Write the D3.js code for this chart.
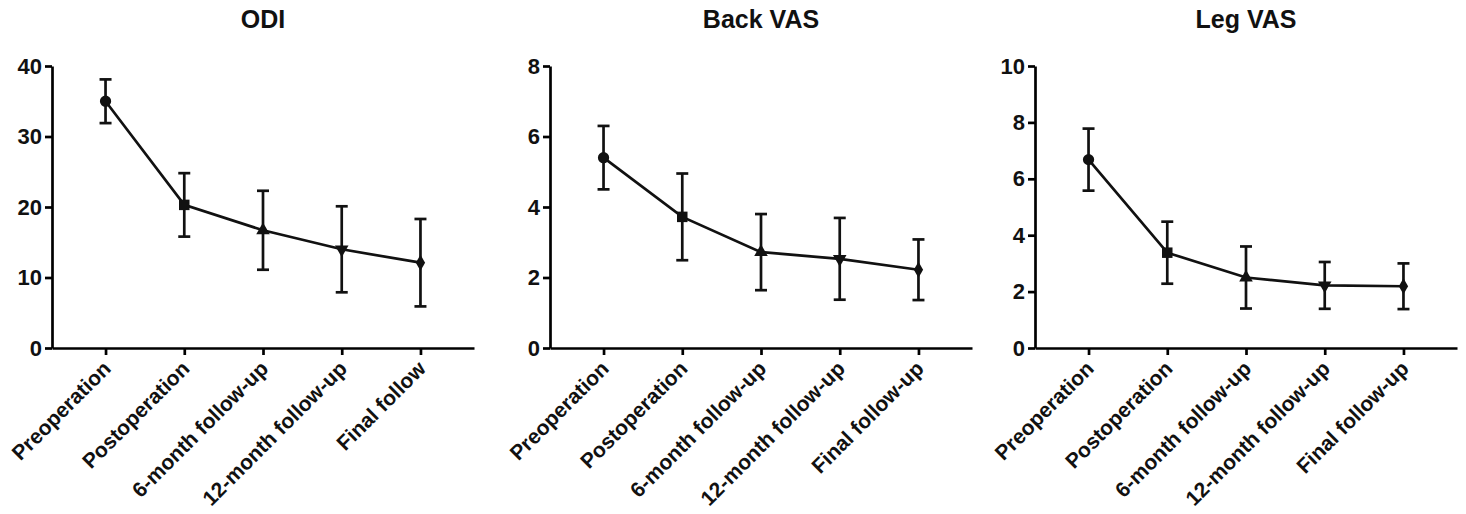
<!DOCTYPE html>
<html>
<head>
<meta charset="utf-8">
<script src="https://cdn.jsdelivr.net/npm/d3@7"></script>
<style>
  body { margin: 0; background: #fff; }
  svg { display: block; font-family: "Liberation Sans", Arial, sans-serif; font-weight: bold; }
</style>
</head>
<body>
<svg id="chart"></svg>
<script>
const odiLabels = ["Preoperation", "Postoperation", "6-month follow-up", "12-month follow-up", "Final follow"]
const vasLabels = ["Preoperation", "Postoperation", "6-month follow-up", "12-month follow-up", "Final follow-up"]

const odiMean = [35.0, 20.3, 16.7, 14.0, 12.1]
const odiSd   = [3.1, 4.5, 5.6, 6.1, 6.2]

const backMean = [5.4, 3.72, 2.72, 2.53, 2.22]
const backSd   = [0.9, 1.23, 1.08, 1.16, 0.86]

const legMean = [6.68, 3.38, 2.5, 2.22, 2.19]
const legSd   = [1.1, 1.1, 1.1, 0.83, 0.81]

const titles = ["ODI", "Back VAS", "Leg VAS"]
const yMax = [40, 8, 10]
const yTicks = [[0, 10, 20, 30, 40], [0, 2, 4, 6, 8], [0, 2, 4, 6, 8, 10]]

const panels = [
  {title: titles[0], labels: odiLabels, mean: odiMean, sd: odiSd, max: yMax[0], ticks: yTicks[0], left: 52},
  {title: titles[1], labels: vasLabels, mean: backMean, sd: backSd, max: yMax[1], ticks: yTicks[1], left: 550},
  {title: titles[2], labels: vasLabels, mean: legMean, sd: legSd, max: yMax[2], ticks: yTicks[2], left: 1035}
]

const width = 1466, height = 514
const plotW = 422, plotTop = 66, plotBottom = 348

const svg = d3.select("#chart")
    .attr("width", width)
    .attr("height", height)

// marker shapes per time point
const shapes = [d3.symbolCircle, d3.symbolSquare, d3.symbolTriangle, d3.symbolTriangle, d3.symbolDiamond]
const sizes = [100, 110, 80, 80, 75]
const rot = [0, 0, 0, 180, 0]

panels.forEach(p => {
    const x = d3.scalePoint()
        .domain(p.labels)
        .range([p.left, p.left + plotW])
        .padding(0.68)

    const y = d3.scaleLinear()
        .domain([0, p.max])
        .range([plotBottom, plotTop])

    const g = svg.append("g")

    // y axis
    const ya = g.append("g")
        .attr("transform", `translate(${p.left},0)`)
        .call(d3.axisLeft(y).tickValues(p.ticks).tickSize(7).tickSizeOuter(0).tickPadding(3))
    ya.select(".domain").attr("stroke-width", 2.7)
    ya.selectAll(".tick line").attr("stroke-width", 2.7)
    ya.selectAll(".tick text")
        .attr("font-size", "22px")
        .attr("font-weight", "bold")
        .attr("font-family", "Liberation Sans, Arial, sans-serif")
        .attr("fill", "#111")

    // x axis
    const xa = g.append("g")
        .attr("transform", `translate(0,${plotBottom})`)
        .call(d3.axisBottom(x).tickSize(7).tickSizeOuter(0))
    xa.select(".domain").attr("stroke-width", 2.7)
    xa.selectAll(".tick line").attr("stroke-width", 2.7)
    xa.selectAll(".tick text")
        .attr("font-size", "21px")
        .attr("font-weight", "bold")
        .attr("font-family", "Liberation Sans, Arial, sans-serif")
        .attr("fill", "#111")
        .attr("text-anchor", "end")
        .attr("dy", "0")
        .attr("y", 0)
        .attr("transform", "translate(6,22) rotate(-45)")

    // title
    g.append("text")
        .attr("x", x(p.labels[2]))
        .attr("y", 28)
        .attr("text-anchor", "middle")
        .attr("font-size", "25px")
        .attr("fill", "#111")
        .text(p.title)

    const pts = p.labels.map((l, i) => ({label: l, m: p.mean[i], s: p.sd[i], i}))

    // error bars
    const eb = g.append("g")
        .attr("stroke", "#111")
        .attr("stroke-width", 2.7)
        .attr("fill", "none")
    eb.selectAll("line.v").data(pts).join("line")
        .attr("class", "v")
        .attr("x1", d => x(d.label)).attr("x2", d => x(d.label))
        .attr("y1", d => y(d.m - d.s)).attr("y2", d => y(d.m + d.s))
    eb.selectAll("line.hi").data(pts).join("line")
        .attr("class", "hi")
        .attr("x1", d => x(d.label) - 6).attr("x2", d => x(d.label) + 6)
        .attr("y1", d => y(d.m + d.s)).attr("y2", d => y(d.m + d.s))
    eb.selectAll("line.lo").data(pts).join("line")
        .attr("class", "lo")
        .attr("x1", d => x(d.label) - 6).attr("x2", d => x(d.label) + 6)
        .attr("y1", d => y(d.m - d.s)).attr("y2", d => y(d.m - d.s))

    // connecting line
    g.append("path")
        .datum(pts)
        .attr("fill", "none")
        .attr("stroke", "#111")
        .attr("stroke-width", 2.7)
        .attr("d", d3.line().x(d => x(d.label)).y(d => y(d.m)))

    // markers
    g.selectAll("path.mk").data(pts).join("path")
        .attr("class", "mk")
        .attr("fill", "#111")
        .attr("transform", d => `translate(${x(d.label)},${y(d.m)}) rotate(${rot[d.i]})`)
        .attr("d", d => d3.symbol().type(shapes[d.i]).size(sizes[d.i])())
})
</script>
</body>
</html>
